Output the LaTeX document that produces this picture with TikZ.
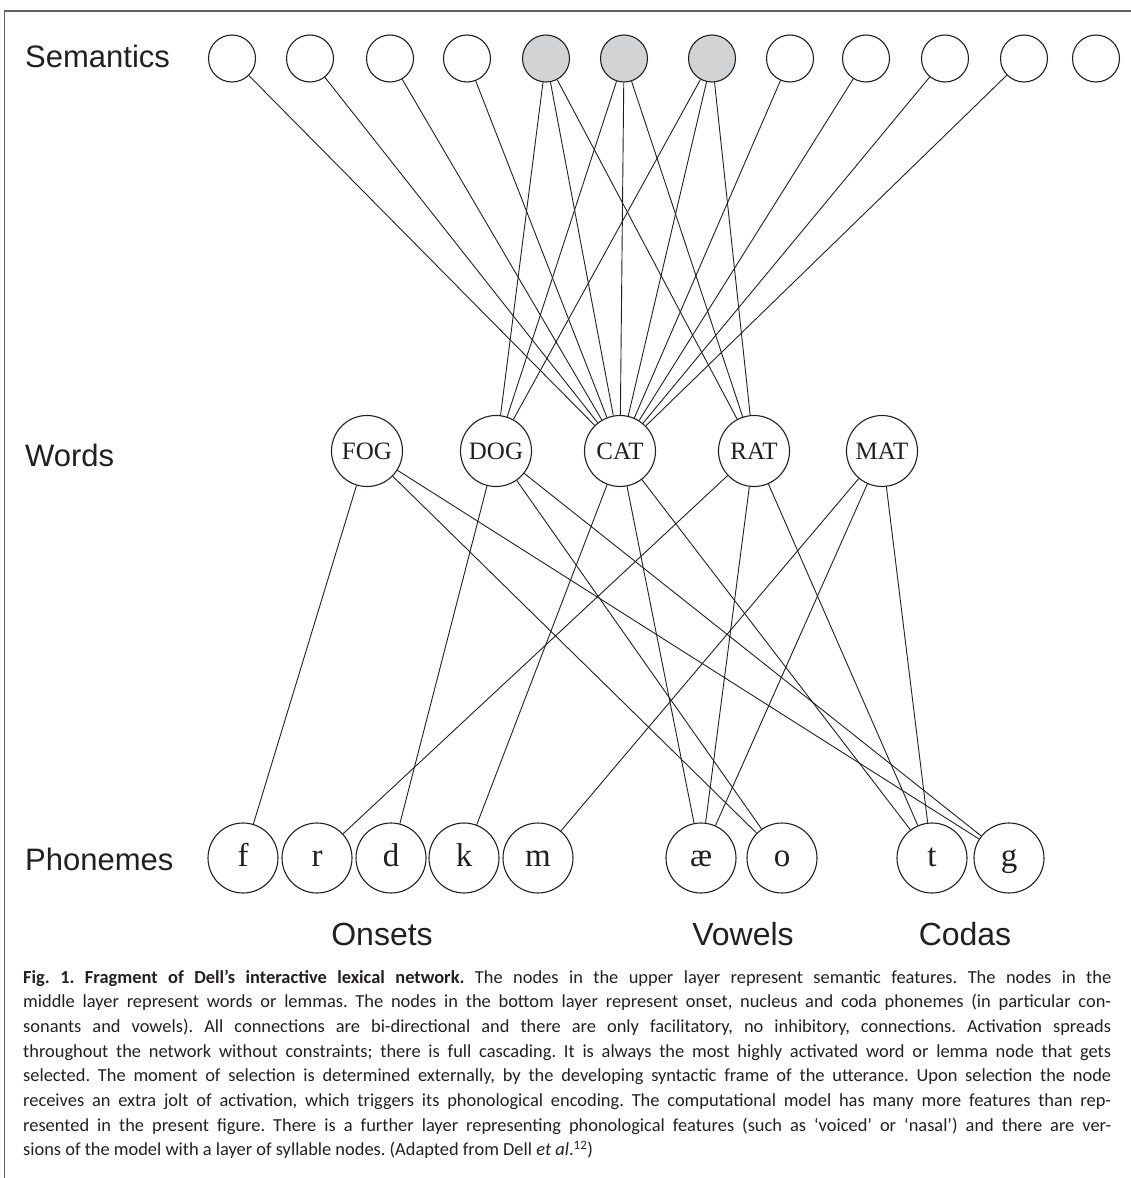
\documentclass[tikz,border=0pt]{standalone}
\usepackage{fontspec}
\setmainfont{Liberation Serif}
\newfontfamily\labelfont{Liberation Sans}
\newfontfamily\capfont{Carlito}
\definecolor{ink}{HTML}{231F20}
\definecolor{sem}{HTML}{D1D3D4}
\definecolor{framec}{HTML}{606060}
\newcommand{\capln}[1]{\makebox[1088pt][s]{#1}}
\frenchspacing
\begin{document}
\begin{tikzpicture}[x=1pt,y=-1pt,
  snode/.style={circle,draw=ink,line width=1.1pt,minimum size=47pt,inner sep=0pt},
  act/.style={snode,fill=sem},
  wnode/.style={circle,draw=ink,line width=1.1pt,minimum size=71pt,inner sep=0pt,text=ink,font=\fontsize{25}{25}\selectfont},
  pnode/.style={circle,draw=ink,line width=1.1pt,minimum size=70pt,inner sep=0pt,text=ink,text height=17.5pt,text depth=0pt,font=\fontsize{33}{33}\selectfont},
  link/.style={draw=ink,line width=0.9pt},
  rowlabel/.style={anchor=base west,inner sep=0pt,text=ink,font=\labelfont\fontsize{31}{31}\selectfont},
  grouplabel/.style={anchor=base,inner sep=0pt,text=ink,font=\labelfont\fontsize{32}{32}\selectfont},
  capline/.style={anchor=base west,inner sep=0pt,text=ink,font=\capfont\fontsize{18.4}{20}\selectfont}]
\useasboundingbox (0,0) rectangle (1131,1178);
\draw[draw=framec,line width=1.2pt] (4.5,1178) -- (4.5,11) -- (1131,11);
% labels
\node[rowlabel] (lsem) at (25,67) {Semantics};
\node[rowlabel] (lwords) at (25,466) {Words};
\node[rowlabel] (lphon) at (25,870) {Phonemes};
\node[grouplabel] (lons) at (382,945) {Onsets};
\node[grouplabel] (lvow) at (743,945) {Vowels};
\node[grouplabel] (lcod) at (965,945) {Codas};
% semantic nodes
\node[snode] (s1) at (232,58.5) {};
\node[snode] (s2) at (310,58.5) {};
\node[snode] (s3) at (390,58.5) {};
\node[snode] (s4) at (467,58.5) {};
\node[act]   (s5) at (546,58.5) {};
\node[act]   (s6) at (624,58.5) {};
\node[act]   (s7) at (712,58.5) {};
\node[snode] (s8) at (790,58.5) {};
\node[snode] (s9) at (866,58.5) {};
\node[snode] (s10) at (945,58.5) {};
\node[snode] (s11) at (1024,58.5) {};
\node[snode] (s12) at (1096,58.5) {};
% word nodes
\node[wnode] (fog) at (367,451) {FOG};
\node[wnode] (dog) at (496,451) {DOG};
\node[wnode] (cat) at (620,451) {CAT};
\node[wnode] (rat) at (754,451) {RAT};
\node[wnode] (mat) at (882,451) {MAT};
% phoneme nodes
\node[pnode] (pf) at (243,858) {f};
\node[pnode] (pr) at (317,858) {r};
\node[pnode] (pd) at (391,858) {d};
\node[pnode] (pk) at (464,858) {k};
\node[pnode] (pm) at (538,858) {m};
\node[pnode] (pae) at (701,858) {æ};
\node[pnode] (po) at (782,858) {o};
\node[pnode] (pt) at (932,858) {t};
\node[pnode] (pg) at (1009,858) {g};
% semantic - word links
\foreach \s in {1,...,11} {\draw[link] (s\s) -- (cat);}
\foreach \s in {5,6,7} {\draw[link] (s\s) -- (dog); \draw[link] (s\s) -- (rat);}
% word - phoneme links
\foreach \p in {pf,po,pg} {\draw[link] (fog) -- (\p);}
\foreach \p in {pd,po,pg} {\draw[link] (dog) -- (\p);}
\foreach \p in {pk,pae,pt} {\draw[link] (cat) -- (\p);}
\foreach \p in {pr,pae,pt} {\draw[link] (rat) -- (\p);}
\foreach \p in {pm,pae,pt} {\draw[link] (mat) -- (\p);}
% caption
\node[capline] (c1) at (23,983) {\capln{\textbf{Fig. 1. Fragment of Dell’s interactive lexical network.} The nodes in the upper layer represent semantic features. The nodes in the}};
\node[capline] (c2) at (23,1007.7) {\capln{middle layer represent words or lemmas. The nodes in the bottom layer represent onset, nucleus and coda phonemes (in particular con-}};
\node[capline] (c3) at (23,1032.4) {\capln{sonants and vowels). All connections are bi-directional and there are only facilitatory, no inhibitory, connections. Activation spreads}};
\node[capline] (c4) at (23,1057.1) {\capln{throughout the network without constraints; there is full cascading. It is always the most highly activated word or lemma node that gets}};
\node[capline] (c5) at (23,1081.8) {\capln{selected. The moment of selection is determined externally, by the developing syntactic frame of the utterance. Upon selection the node}};
\node[capline] (c6) at (23,1106.5) {\capln{receives an extra jolt of activation, which triggers its phonological encoding. The computational model has many more features than rep-}};
\node[capline] (c7) at (23,1131.2) {\capln{resented in the present figure. There is a further layer representing phonological features (such as ‘voiced’ or ‘nasal’) and there are ver-}};
\node[capline] (c8) at (23,1155.9) {sions of the model with a layer of syllable nodes. (Adapted from Dell \textit{et al}.\textsuperscript{12})};
\end{tikzpicture}
\end{document}
